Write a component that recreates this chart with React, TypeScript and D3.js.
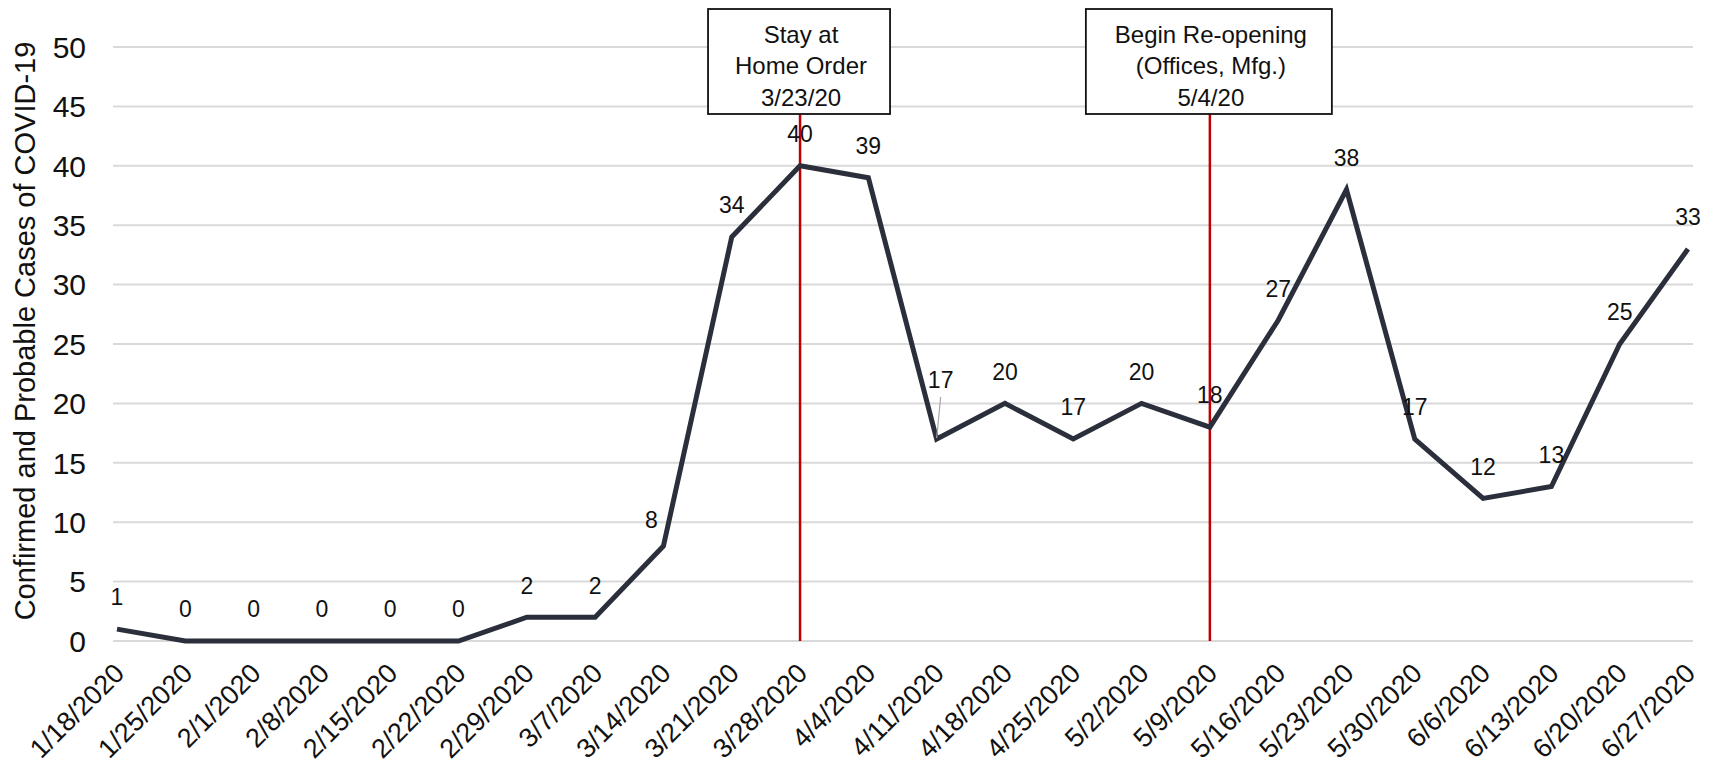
import React, { useEffect, useRef } from 'react';
import * as d3 from 'd3';

const weeks = [
  '1/18/2020', '1/25/2020', '2/1/2020', '2/8/2020', '2/15/2020', '2/22/2020',
  '2/29/2020', '3/7/2020', '3/14/2020', '3/21/2020', '3/28/2020', '4/4/2020',
  '4/11/2020', '4/18/2020', '4/25/2020', '5/2/2020', '5/9/2020', '5/16/2020',
  '5/23/2020', '5/30/2020', '6/6/2020', '6/13/2020', '6/20/2020', '6/27/2020',
];
const cases = [1, 0, 0, 0, 0, 0, 2, 2, 8, 34, 40, 39, 17, 20, 17, 20, 18, 27, 38, 17, 12, 13, 25, 33];
const yTicks = [0, 5, 10, 15, 20, 25, 30, 35, 40, 45, 50];

const events = [
  { week: '3/28/2020', lines: ['Stay at', 'Home Order', '3/23/20'] },
  { week: '5/9/2020', lines: ['Begin Re-opening', '(Offices, Mfg.)', '5/4/20'] },
];

const W = 1719;
const H = 764;
const FONT = '"Liberation Sans", Arial, sans-serif';

// labels Excel nudged away from the default spot
const labelNudge: Record<number, { dx: number; dy: number; leader?: boolean }> = {
  8: { dx: -12, dy: 6 },
  12: { dx: 4, dy: -27, leader: true },
};

const App: React.FC = () => {
  const svgRef = useRef<SVGSVGElement | null>(null);

  useEffect(() => {
    if (!svgRef.current) return;
    const svg = d3.select(svgRef.current);
    svg.selectAll('*').remove();

    const x = d3.scalePoint<string>().domain(weeks).range([117, 1688]);
    const y = d3.scaleLinear().domain([0, 50]).range([641, 47]);
    const gridLeft = 113;
    const gridRight = 1693;

    // gridlines
    svg
      .append('g')
      .selectAll('line')
      .data(yTicks)
      .join('line')
      .attr('x1', gridLeft)
      .attr('x2', gridRight)
      .attr('y1', (d) => y(d))
      .attr('y2', (d) => y(d))
      .attr('stroke', '#d9d9d9')
      .attr('stroke-width', 2);

    // y tick labels
    svg
      .append('g')
      .selectAll('text')
      .data(yTicks)
      .join('text')
      .attr('x', 86)
      .attr('y', (d) => y(d))
      .attr('dy', '0.36em')
      .attr('text-anchor', 'end')
      .style('font-family', FONT)
      .style('font-size', '30px')
      .style('fill', '#111')
      .text((d) => d);

    // y axis title
    svg
      .append('text')
      .attr('transform', `translate(35,331) rotate(-90)`)
      .attr('text-anchor', 'middle')
      .style('font-family', FONT)
      .style('font-size', '29px')
      .style('fill', '#111')
      .text('Confirmed and Probable Cases of COVID-19');

    // x labels
    svg
      .append('g')
      .selectAll('text')
      .data(weeks)
      .join('text')
      .attr('transform', (d) => `translate(${(x(d) ?? 0) + 2},${y(0) + 27}) rotate(-45)`)
      .attr('dy', '0.36em')
      .attr('text-anchor', 'end')
      .style('font-family', FONT)
      .style('font-size', '27px')
      .style('fill', '#111')
      .text((d) => d);

    // event markers
    events.forEach((ev) => {
      const ex = x(ev.week) ?? 0;
      const boxW = ev.lines[0].length > 10 ? 246 : 182;
      const boxTop = 9;
      const boxH = 105;
      svg
        .append('line')
        .attr('x1', ex)
        .attr('x2', ex)
        .attr('y1', boxTop + boxH)
        .attr('y2', y(0))
        .attr('stroke', '#c00000')
        .attr('stroke-width', 2.5);
      svg
        .append('rect')
        .attr('x', ex - boxW / 2 - 1)
        .attr('y', boxTop)
        .attr('width', boxW)
        .attr('height', boxH)
        .attr('fill', '#fff')
        .attr('stroke', '#111')
        .attr('stroke-width', 1.8);
      svg
        .append('g')
        .selectAll('text')
        .data(ev.lines)
        .join('text')
        .attr('x', ex + 1)
        .attr('y', (_, i) => 34 + i * 31.5)
        .attr('dy', '0.36em')
        .attr('text-anchor', 'middle')
        .style('font-family', FONT)
        .style('font-size', '24px')
        .style('fill', '#111')
        .text((d) => d);
    });

    // the series
    const line = d3
      .line<number>()
      .x((_, i) => x(weeks[i]) ?? 0)
      .y((d) => y(d));

    svg
      .append('path')
      .datum(cases)
      .attr('fill', 'none')
      .attr('stroke', '#2b2f3b')
      .attr('stroke-width', 5)
      .attr('stroke-linejoin', 'miter')
      .attr('d', line);

    // data labels
    cases.forEach((v, i) => {
      const px = x(weeks[i]) ?? 0;
      const py = y(v);
      const n = labelNudge[i] ?? { dx: 0, dy: 0 };
      const lx = px + n.dx;
      const ly = py - 32 + n.dy;
      if (n.leader) {
        svg
          .append('line')
          .attr('x1', lx)
          .attr('y1', ly + 17)
          .attr('x2', px)
          .attr('y2', py - 1)
          .attr('stroke', '#a6a6a6')
          .attr('stroke-width', 1.2);
      }
      svg
        .append('text')
        .attr('x', lx)
        .attr('y', ly)
        .attr('dy', '0.36em')
        .attr('text-anchor', 'middle')
        .style('font-family', FONT)
        .style('font-size', '23px')
        .style('fill', '#111')
        .text(v);
    });
  }, []);

  return (
    <div style={{ position: 'absolute', left: 0, top: 0, background: '#fff' }}>
      <svg ref={svgRef} width={W} height={H} style={{ display: 'block' }}></svg>
    </div>
  );
};

export default App;
